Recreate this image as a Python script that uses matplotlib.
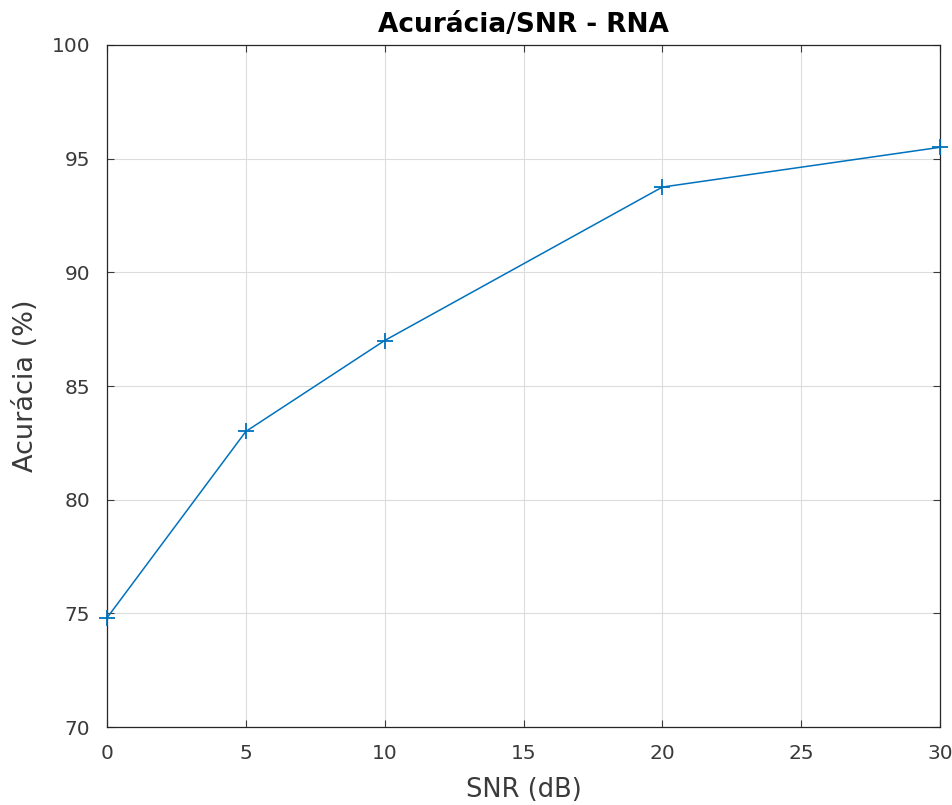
import matplotlib
matplotlib.use("Agg")
import matplotlib.pyplot as plt

snr_db = [0, 5, 10, 20, 30]
accuracy = [74.8, 83.0, 87.0, 93.75, 95.5]
x_ticks = [0, 5, 10, 15, 20, 25, 30]
y_ticks = [70, 75, 80, 85, 90, 95, 100]

plt.rcParams['font.family'] = ['DejaVu Sans']
fig = plt.figure(figsize=(9.52, 8.05), dpi=100)
ax = fig.add_axes([107/952, 1-727/805, (940-107)/952, (727-45)/805])

txt = '#3a3a3a'
ax.plot(snr_db, accuracy, color='#0072BD', marker='+', markersize=11,
        markeredgewidth=1.3, linewidth=1.1, clip_on=False, zorder=3)

ax.set_xlim(0, 30)
ax.set_ylim(70, 100)
ax.set_xticks(x_ticks)
ax.set_yticks(y_ticks)
ax.grid(True, color='#dcdcdc', linewidth=0.8)
ax.set_axisbelow(True)
ax.tick_params(direction='in', length=5, width=0.8, colors=txt,
               labelsize=14.5, top=True, right=True, pad=12)
for s in ax.spines.values():
    s.set_color('#262626')
    s.set_linewidth(0.9)

ax.set_xlabel('SNR (dB)', fontsize=18.5, color=txt)
ax.set_ylabel('Acurácia (%)', fontsize=19.5, color=txt)
ax.xaxis.set_label_coords(0.5, (727-777)/682)
ax.yaxis.set_label_coords((39-107)/833, 0.5)
ax.set_title('Acurácia/SNR - RNA', fontsize=19, fontweight='bold', pad=9)

fig.savefig('out.png', dpi=100)
